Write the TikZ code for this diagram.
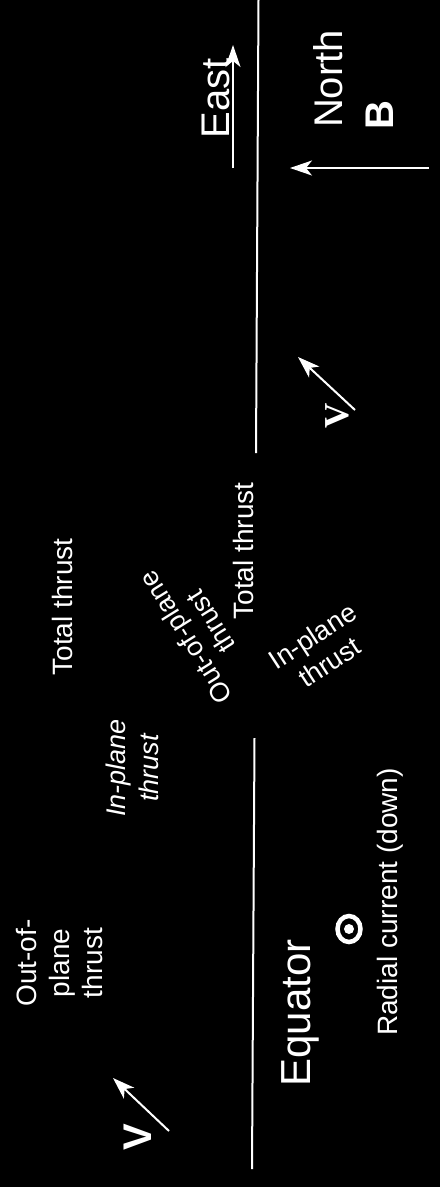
\documentclass[tikz,border=0pt]{standalone}
\usepackage{fontspec}
\setmainfont{Liberation Sans}
\newfontfamily\vserif{Liberation Serif}
\usetikzlibrary{arrows.meta}

\tikzset{
    lbl/.style={text=white, inner sep=0pt, align=center, font=\fontsize{28}{33}\selectfont},
    biglbl/.style={text=white, inner sep=0pt, font=\fontsize{40}{46}\selectfont},
    vec/.style={white, line width=2pt, -{Stealth[length=22pt,width=15pt,inset=6pt]}},
    eqline/.style={white, line width=2pt}
}

\begin{document}
\begin{tikzpicture}[x=1pt, y=-1pt]
        % Black background with the page margins
        \fill[black] (0,0) rectangle (440,1187);
        \useasboundingbox (0,0) rectangle (440,1187);

        % Draw the equator line, broken in the middle
        \coordinate (eqa) at (258.5,0);
        \coordinate (eqb) at (256,453);
        \coordinate (eqc) at (254.5,738);
        \coordinate (eqd) at (252,1169);
        \draw[eqline] (eqa) -- (eqb);
        \draw[eqline] (eqc) -- (eqd);

        % Compass: East and North (B)
        \coordinate (etail) at (233,168);
        \coordinate (etip) at (233,45);
        \draw[vec, line width=1.6pt] (etail) -- (etip);
        \node[biglbl, rotate=90] (east) at (216,98) {East};

        \coordinate (btail) at (429,168);
        \coordinate (btip) at (290,168);
        \draw[vec, line width=1.6pt] (btail) -- (btip);
        \node[biglbl, rotate=90] (north) at (328,79) {North};
        \node[biglbl, rotate=90, font=\fontsize{40}{46}\selectfont\bfseries] (bfield) at (380,115) {B};

        % Velocity arrows
        \foreach \n/\tx/\ty/\hx/\hy in {1/355/410/298/357, 2/169/1131/113/1078} {
            \coordinate (vtail\n) at (\tx,\ty);
            \coordinate (vtip\n) at (\hx,\hy);
            \draw[vec] (vtail\n) -- (vtip\n);
        }
        \node[biglbl, rotate=90, font=\fontsize{35}{40}\selectfont\vserif\bfseries] (vtop) at (337,416) {V};
        \node[biglbl, rotate=90, font=\fontsize{40}{46}\selectfont\bfseries] (vbot) at (138,1137) {V};

        % Thrust labels, left part
        \node[lbl, rotate=90] (outleft) at (60,963) {Out-of-\\plane\\thrust};
        \node[lbl, rotate=90, font=\fontsize{27}{33}\selectfont\itshape] (inleft) at (132,768) {In-plane\\thrust};
        \node[lbl, rotate=90] (totleft) at (62,607) {Total thrust};

        % Thrust labels, right part
        \node[lbl, rotate=90] (totright) at (243,551) {Total thrust};
        \node[lbl, rotate=122, font=\fontsize{27}{30}\selectfont] (outright) at (198,630) {Out-of-plane\\thrust};
        \node[lbl, rotate=33, font=\fontsize{27}{31}\selectfont] (inright) at (321,649) {In-plane\\thrust};

        % Equator and radial current
        \node[biglbl, rotate=90, font=\fontsize{42}{48}\selectfont] (equator) at (300,1013) {Equator};
        \draw[white, line width=4.5pt] (349,929) ellipse [x radius=11.5pt, y radius=13pt];
        \fill[white] (349,929) circle (5pt);
        \node[lbl, rotate=90] (radial) at (390,902) {Radial current (down)};
\end{tikzpicture}
\end{document}
